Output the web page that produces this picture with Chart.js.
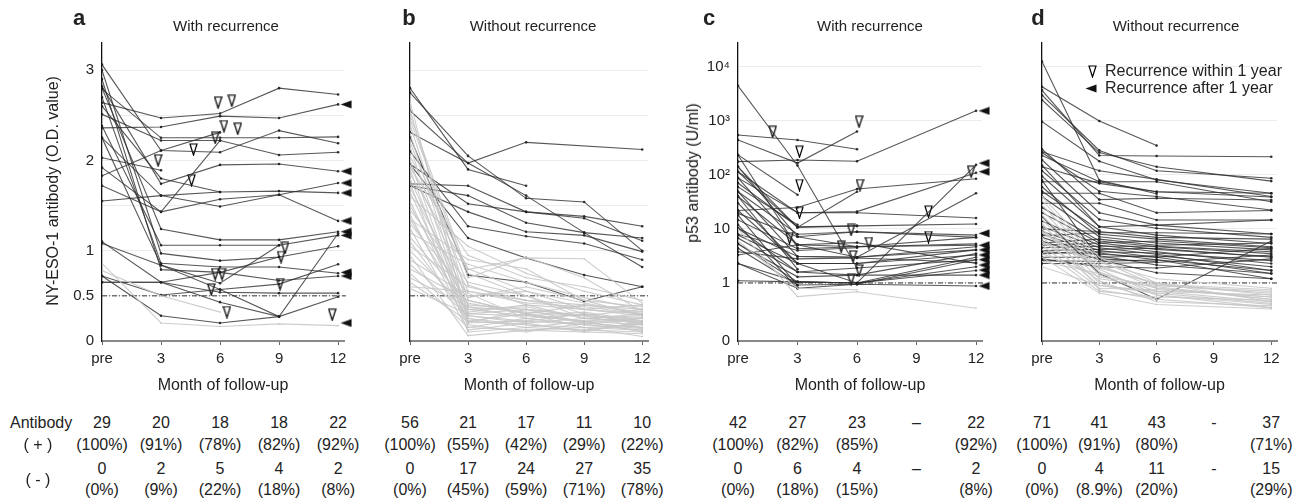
<!DOCTYPE html>
<html>
<head>
<meta charset="utf-8">
<script src="https://cdn.jsdelivr.net/npm/chart.js@4.4.1/dist/chart.umd.min.js"></script>
<style>
body{margin:0;background:#fff;width:1312px;height:501px;overflow:hidden;position:relative;font-family:'Liberation Sans',Arial,sans-serif;color:#222;}
.box{position:absolute;top:0;height:400px;}
.t{position:absolute;white-space:nowrap;transform:translate(-50%,-50%);font-size:15px;}
.letter{font-weight:bold;font-size:22px;}
.ytitle{font-size:16px;transform:translate(-50%,-50%) rotate(-90deg);}
.cell{position:absolute;white-space:nowrap;transform:translate(-50%,-50%);font-size:16px;}
.leg{position:absolute;white-space:nowrap;font-size:16px;transform:translateY(-50%);}
</style>
</head>
<body>
<div class="box" style="left:0;width:365px"><canvas id="chA" width="365" height="400"></canvas></div>
<div class="box" style="left:365px;width:300px"><canvas id="chB" width="300" height="400"></canvas></div>
<div class="box" style="left:665px;width:325px"><canvas id="chC" width="325" height="400"></canvas></div>
<div class="box" style="left:990px;width:322px"><canvas id="chD" width="322" height="400"></canvas></div>

<div class="t letter" style="left:79px;top:18px">a</div>
<div class="t letter" style="left:409px;top:18px">b</div>
<div class="t letter" style="left:709px;top:18px">c</div>
<div class="t letter" style="left:1038px;top:18px">d</div>
<div class="t" style="left:226px;top:25px">With recurrence</div>
<div class="t" style="left:533px;top:25px">Without recurrence</div>
<div class="t" style="left:870px;top:25px">With recurrence</div>
<div class="t" style="left:1176px;top:25px">Without recurrence</div>
<div class="t ytitle" style="left:53px;top:191px">NY-ESO-1 antibody (O.D. value)</div>
<div class="t ytitle" style="left:693px;top:173px">p53 antibody (U/ml)</div>
<div id="legend"></div>
<div id="table"></div>

<script>
// meses de seguimento e rótulos
var monthsNY = [0, 3, 6, 9, 12];
var monthsP53 = [0, 3, 6, 12];
var monthTicks = [0, 3, 6, 9, 12];
var monthLabels = ['pre', '3', '6', '9', '12'];
var nyTicks = [0, 0.5, 1, 1.5, 2, 2.5, 3];
var nyTickLabels = ['0', '0.5', '1', '', '2', '', '3'];
var p53Ticks = [0.0843, 1, 10, 100, 1000, 10000];
var p53TickLabels = ['0', '1', '10', '10²', '10³', '10⁴'];

// a: NY-ESO-1, with recurrence  [pre, 3, 6, 9, 12]
var aDark = [
  [2.64, 2.47, 2.52, 2.80, 2.73],
  [2.36, 2.37, 2.49, 2.47, 2.62],
  [2.79, 2.25, 2.25, 2.25, 2.26],
  [2.51, 2.22, 2.22, 2.06, 2.09],
  [3.06, 2.11, 2.09, 2.33, 2.19],
  [1.83, 2.11, 2.31, null, null],
  [2.03, 1.89, null, null, null],
  [2.82, 1.74, 1.95, 1.96, 1.88],
  [2.25, 1.61, 1.49, 1.62, 1.75],
  [1.72, 1.43, 2.22, null, null],
  [1.55, 1.61, 1.65, 1.66, 1.64],
  [1.92, 1.43, 1.57, 1.62, 1.33],
  [2.80, 1.24, 1.12, 1.12, 1.21],
  [2.38, 1.06, 1.06, 1.06, 1.17],
  [3.00, 0.97, 0.89, 0.93, 1.05],
  [2.70, 0.86, 0.82, 0.82, 0.75],
  [2.90, 0.79, 0.76, 0.67, 0.72],
  [1.08, 0.84, 0.64, 1.06, null],
  [0.65, 0.65, 0.76, 0.93, null],
  [0.72, 0.51, 0.57, 0.63, 0.85],
  [0.65, 0.65, 0.54, 0.53, 0.53],
  [1.10, 0.65, 0.43, 0.27, 1.19],
  [2.25, 0.84, 0.57, 0.27, 0.49],
  [0.72, 0.28, 0.20, 0.27, null],
  [2.60, 1.80, 1.65, null, null]
];
var aLight = [
  [0.86, 0.20, 0.16, 0.19, 0.17],
  [0.78, 0.50, 0.32, null, null]
];
var aWithin = [[5.9, 2.64], [6.6, 2.66], [5.75, 2.25], [6.2, 2.38], [6.9, 2.35], [4.65, 2.12],
  [2.85, 2.0], [4.55, 1.78], [9.3, 1.03], [9.1, 0.93], [5.75, 0.74], [6.1, 0.74],
  [5.55, 0.57], [9.05, 0.63], [6.35, 0.32], [11.7, 0.29]];
var aAfter = [2.62, 1.88, 1.75, 1.64, 1.33, 1.21, 1.17, 0.76, 0.72, 0.20];

// b: NY-ESO-1, without recurrence
var bDark = [
  [2.31, 1.97, 2.20, null, 2.12],
  [2.80, 1.90, 1.72, null, null],
  [2.75, 2.05, 1.58, 1.54, 1.00],
  [1.74, 1.72, 1.43, 1.38, 1.27],
  [1.72, 1.61, 1.31, 1.20, 1.14],
  [1.96, 1.52, 1.43, 1.36, 1.11],
  [1.72, 1.43, 1.21, 1.17, 0.99],
  [2.10, 1.27, 1.16, 1.08, 0.90],
  [1.96, 1.14, 0.92, 0.73, 0.60],
  [2.26, 0.73, 0.65, 0.44, 0.60],
  [2.55, 1.97, 1.61, 1.20, 0.82]
];
var bLight = [
  [2.55, 0.45, 0.30, 0.22, 0.18], [2.40, 0.38, 0.25, 0.30, 0.20], [2.30, 0.30, 0.35, 0.20, 0.15],
  [2.20, 0.62, 0.40, 0.25, 0.28], [2.15, 0.25, 0.18, 0.15, 0.12], [2.05, 0.80, 0.55, 0.35, 0.30],
  [2.00, 0.20, 0.22, 0.18, 0.25], [1.95, 0.55, 0.45, 0.40, 0.35], [1.90, 0.15, 0.12, 0.10, 0.08],
  [1.85, 0.79, 0.92, 0.91, 0.42], [1.80, 0.35, 0.28, 0.32, 0.22], [1.75, 0.10, 0.15, 0.12, 0.10],
  [1.70, 0.48, 0.60, 0.45, 0.38], [1.65, 0.28, 0.20, 0.25, 0.30], [1.60, 1.05, 0.75, 0.55, 0.40],
  [1.55, 0.22, 0.30, 0.15, 0.18], [1.50, 0.40, 0.35, 0.28, 0.25], [1.45, 0.65, 0.50, 0.30, 0.20],
  [1.40, 0.18, 0.10, 0.20, 0.15], [1.35, 0.32, 0.40, 0.35, 0.28], [1.30, 0.53, 0.25, 0.18, 0.12],
  [1.25, 0.12, 0.20, 0.10, 0.22], [1.20, 0.85, 0.65, 0.48, 0.35], [1.15, 0.42, 0.30, 0.40, 0.32],
  [1.10, 0.25, 0.15, 0.22, 0.10], [1.05, 0.60, 0.45, 0.35, 0.40], [1.00, 0.35, 0.38, 0.25, 0.20],
  [0.95, 0.06, 0.12, 0.15, 0.05], [0.90, 0.50, 0.55, 0.42, 0.30], [0.85, 0.28, 0.22, 0.30, 0.18],
  [0.80, 0.45, 0.30, 0.20, 0.25], [0.75, 0.15, 0.25, 0.18, 0.14], [0.70, 0.38, 0.32, 0.28, 0.35],
  [0.65, 0.22, 0.18, 0.12, 0.20], [0.60, 0.55, 0.42, 0.38, 0.30], [0.58, 0.30, 0.28, 0.22, 0.26],
  [2.65, 0.20, 0.35, 0.28, 0.15], [2.50, 0.75, 0.50, 0.25, 0.22], [1.92, 0.95, 0.70, 0.60, 0.45],
  [2.45, 0.70, 0.93, 0.70, 0.33], [1.35, 0.90, 0.80, 0.45, 0.28]
];

// c: p53, with recurrence  [pre, 3, 6, 12]
var cDark = [
  [4500, 150, 1.9, null], [550, 445, 300, null], [445, 166, 640, null], [177, 190, 180, 1540],
  [235, 43, null, null], [115, 10.7, 49, null], [22, 25, 55, 85], [88, 20, 20, 16],
  [71, 11, 11.4, 12.4], [49, 8, 8.9, 7.7], [40, 5.1, 3.0, 46], [30, 2.3, 1.0, 154],
  [19.5, 7.2, 4.7, 7.0], [14.7, 4.3, 4.7, 5.3], [10.3, 3.1, 3.0, 4.7], [7.7, 2.3, 2.3, 4.1],
  [6.8, 1.6, 1.4, 3.5], [5.3, 1.05, 1.0, 3.0], [4.4, 0.92, 0.95, 2.7], [3.3, 5.1, 5.6, 2.3],
  [2.3, 1.05, 1.0, 2.0], [1.1, 1.05, 1.0, 1.7], [142, 7.2, 8.9, 7.0], [88, 5.1, 4.7, 5.0],
  [49, 3.1, 3.0, 4.1], [22, 2.3, 2.3, 3.3], [10.3, 1.6, 1.9, 2.7], [5.3, 1.3, 1.4, 1.4],
  [2.3, 0.8, 0.95, 0.88], [142, 10.7, 11.4, null], [235, 4.5, null, null], [40, 1.8, null, null],
  [115, 20, 21, 110], [60, 12, null, null], [18, 0.9, null, null], [12, 0.8, null, null],
  [8, 4, 4.5, null], [3.8, 2.8, 2.9, 2.4]
];
var cLight = [
  [10, 0.56, 0.69, 0.34], [6, 0.8, 0.75, null]
];
var cWithin = [[1.75, 630], [3.1, 270], [3.1, 65], [3.1, 20], [2.6, 6.8], [6.1, 970], [6.15, 65],
  [5.7, 9.6], [5.2, 4.7], [6.6, 5.5], [5.8, 3.1], [6.1, 1.7], [5.7, 1.17], [9.6, 21], [9.6, 7.1], [11.75, 115]];
var cAfter = [1540, 166, 115, 8.3, 5.0, 4.1, 3.3, 2.7, 2.15, 1.74, 1.4, 0.88];

// d: p53, without recurrence
var dDark = [
  [12600, 80, 45, null], [4300, 1000, 350, null], [3700, 230, 225, 218], [3000, 285, 120, 87],
  [2450, 260, 142, 77], [970, 180, 81, 46], [270, 120, 83, 40], [230, 75, 49, 46],
  [142, 70, 49, 39], [75, 75, 75, 32], [46, 46, 20, 22], [30, 30, 14.7, 14.7],
  [17, 1.5, 0.5, 6.0], [190, 20, 11.8, 8.1], [120, 15, 10.3, 7.0], [95, 11, 7.7, 5.4],
  [60, 8, 6.5, 4.7], [40, 7.2, 5.5, 4.1], [25, 6, 4.7, 3.5], [20, 5.5, 4.2, 3.1],
  [14, 5, 3.8, 2.3], [11, 4.5, 3.4, 1.7], [9, 4, 3.0, 1.5], [8, 3.6, 2.7, 1.2],
  [7, 3.2, 2.15, 1.5], [6, 2.7, 1.55, 1.2], [5.5, 6.5, 5.0, 5.5], [5, 5.5, 6.0, 4.5],
  [4.5, 4.8, 4.8, 3.8], [4, 4.2, 4.4, 3.0], [3.5, 3.8, 3.6, 2.6], [3, 3.0, 3.2, 2.0],
  [2.6, 2.5, 2.7, 1.7], [2.3, 2.3, 2.4, 3.3], [300, 35, 37, 34.5], [260, 50, 40, 22.5],
  [150, 11, 11.8, 14.7], [7.5, 8.5, 8.5, 8.1], [10, 9, 7, 6.5], [3.8, 3.4, 3.0, 4.4],
  [2.8, 2.0, 1.9, 2.8], [80, 2.8, 2.5, null], [50, 9.5, null, null]
];
var dLight = [
  [34, 2.6, 0.9, 0.7], [28, 2.2, 0.8, 0.55], [22, 1.9, 1.0, 0.45], [18, 1.6, 0.7, 0.6],
  [15, 1.4, 0.6, 0.4], [12, 1.2, 0.85, 0.5], [10, 1.0, 0.5, 0.35], [8.5, 2.0, 0.95, 0.75],
  [7, 0.9, 0.65, 0.42], [6, 1.1, 0.45, 0.38], [5, 0.8, 0.75, 0.55], [4.2, 0.7, 0.55, 0.48],
  [3.5, 1.3, 0.9, 0.65], [3.0, 0.65, 0.4, 0.33], [2.5, 1.5, 0.8, 0.5], [2.0, 0.9, 0.7, 0.45],
  [40, 3.0, 1.0, 0.6], [9, 1.8, 0.6, 0.35], [5.5, 2.4, 1.2, 0.8], [13, 0.75, 0.5, null]
];

// tabela de positivos / negativos
var aPos = ['29', '20', '18', '18', '22'], aPosPct = ['(100%)', '(91%)', '(78%)', '(82%)', '(92%)'];
var aNeg = ['0', '2', '5', '4', '2'], aNegPct = ['(0%)', '(9%)', '(22%)', '(18%)', '(8%)'];
var bPos = ['56', '21', '17', '11', '10'], bPosPct = ['(100%)', '(55%)', '(42%)', '(29%)', '(22%)'];
var bNeg = ['0', '17', '24', '27', '35'], bNegPct = ['(0%)', '(45%)', '(59%)', '(71%)', '(78%)'];
var cPos = ['42', '27', '23', '–', '22'], cPosPct = ['(100%)', '(82%)', '(85%)', '', '(92%)'];
var cNeg = ['0', '6', '4', '–', '2'], cNegPct = ['(0%)', '(18%)', '(15%)', '', '(8%)'];
var dPos = ['71', '41', '43', '-', '37'], dPosPct = ['(100%)', '(91%)', '(80%)', '', '(71%)'];
var dNeg = ['0', '4', '11', '-', '15'], dNegPct = ['(0%)', '(8.9%)', '(20%)', '', '(29%)'];

// marcadores
function markDown() {
  var c = document.createElement('canvas');
  c.width = 9; c.height = 13;
  var g = c.getContext('2d');
  g.beginPath(); g.moveTo(1, 1); g.lineTo(8, 1); g.lineTo(4.5, 12); g.closePath();
  g.fillStyle = '#fff'; g.fill();
  g.strokeStyle = '#000'; g.lineWidth = 1.2; g.stroke();
  return c;
}
// shift: deslocamento do triângulo à direita do ponto (mês 12)
function markLeft(shift) {
  var w = 12 + 2 * shift;
  var c = document.createElement('canvas');
  c.width = w; c.height = 9;
  var g = c.getContext('2d');
  var x0 = w / 2 + shift - 6;
  g.beginPath(); g.moveTo(x0 + 11.5, 0.5); g.lineTo(x0 + 11.5, 8.5); g.lineTo(x0 + 0.5, 4.5); g.closePath();
  g.fillStyle = '#111'; g.fill();
  return c;
}
var downMark = markDown();
var leftMark = markLeft(8);
var leftMarkLegend = markLeft(0);

function lineSets(months, rows, dark) {
  return rows.map(function (r) {
    var pts = [];
    r.forEach(function (v, i) { if (v !== null) pts.push({x: months[i], y: v}); });
    return {
      data: pts,
      showLine: true,
      borderColor: dark ? 'rgba(45,45,45,0.8)' : 'rgba(200,200,200,0.9)',
      borderWidth: 1.1,
      pointRadius: dark ? 1.3 : 0.8,
      pointBackgroundColor: dark ? 'rgba(30,30,30,0.9)' : 'rgba(190,190,190,0.9)',
      pointBorderWidth: 0
    };
  });
}

function drawPanel(id, p) {
  var sets = lineSets(p.months, p.light, false).concat(lineSets(p.months, p.dark, true));
  sets.push({
    data: [{x: 0, y: p.cutoff}, {x: 12.4, y: p.cutoff}],
    showLine: true, borderColor: '#333', borderWidth: 1, borderDash: [5, 2, 1, 2],
    pointRadius: 0, clip: false
  });
  if (p.within) {
    sets.push({
      data: p.within.map(function (w) { return {x: w[0], y: w[1]}; }),
      pointStyle: downMark, pointRadius: 6, pointBorderWidth: 0, clip: false
    });
  }
  if (p.after) {
    sets.push({
      data: p.after.map(function (v) { return {x: 12, y: v}; }),
      pointStyle: leftMark, pointRadius: 6, pointBorderWidth: 0, clip: false
    });
  }

  var yScale = {
    type: p.log ? 'logarithmic' : 'linear',
    min: p.min, max: p.max,
    afterBuildTicks: function (s) { s.ticks = p.ticks.map(function (v) { return {value: v}; }); },
    afterFit: function (s) { s.width = p.yWidth; },
    ticks: {
      display: p.showTicks,
      padding: 8,
      color: '#222',
      font: {family: 'Liberation Sans', size: 15},
      callback: function (v, i) { return p.tickLabels[i]; }
    },
    grid: {color: '#ececec', drawTicks: false},
    border: {color: '#111', width: 1.3}
  };

  return new Chart(document.getElementById(id), {
    type: 'scatter',
    data: {datasets: sets},
    options: {
      responsive: false,
      animation: false,
      events: [],
      layout: {padding: {top: 43, right: p.padRight, left: 0, bottom: 0}},
      plugins: {legend: {display: false}, tooltip: {enabled: false}},
      scales: {
        x: {
          type: 'linear', min: 0, max: 12.3,
          afterBuildTicks: function (s) { s.ticks = monthTicks.map(function (v) { return {value: v}; }); },
          afterFit: function (s) { s.height = 59; },
          ticks: {
            padding: 5, color: '#222',
            font: {family: 'Liberation Sans', size: 15},
            callback: function (v, i) { return monthLabels[i]; }
          },
          grid: {drawOnChartArea: false, drawTicks: true, tickLength: 4, color: '#666'},
          border: {color: '#888', width: 2},
          title: {
            display: true, text: 'Month of follow-up', color: '#222',
            font: {family: 'Liberation Sans', size: 16},
            padding: {top: 0, bottom: 5}
          }
        },
        y: yScale
      }
    }
  });
}

var chA = drawPanel('chA', {months: monthsNY, dark: aDark, light: aLight, within: aWithin, after: aAfter,
  cutoff: 0.5, min: 0, max: 3.3, ticks: nyTicks, tickLabels: nyTickLabels, showTicks: true, yWidth: 102, padRight: 21});
var chB = drawPanel('chB', {months: monthsNY, dark: bDark, light: bLight,
  cutoff: 0.5, min: 0, max: 3.3, ticks: nyTicks, tickLabels: nyTickLabels, showTicks: false, yWidth: 45, padRight: 17});
var chC = drawPanel('chC', {months: monthsP53, dark: cDark, light: cLight, within: cWithin, after: cAfter, log: true,
  cutoff: 1, min: 0.0843, max: 27800, ticks: p53Ticks, tickLabels: p53TickLabels, showTicks: true, yWidth: 73, padRight: 8});
var chD = drawPanel('chD', {months: monthsP53, dark: dDark, light: dLight, log: true,
  cutoff: 1, min: 0.0843, max: 27800, ticks: p53Ticks, tickLabels: p53TickLabels, showTicks: false, yWidth: 52, padRight: 35});

// legenda (painel d)
var leg = document.getElementById('legend');
leg.innerHTML =
  '<img src="' + downMark.toDataURL() + '" style="position:absolute;left:1088px;top:65px">' +
  '<div class="leg" style="left:1105px;top:71px">Recurrence within 1 year</div>' +
  '<img src="' + leftMarkLegend.toDataURL() + '" style="position:absolute;left:1085px;top:84px">' +
  '<div class="leg" style="left:1105px;top:88px">Recurrence after 1 year</div>';

// tabela, alinhada com os ticks do eixo x
var rowsY = [423, 445, 469, 490];
var html = '<div class="leg" style="left:10px;top:423px">Antibody</div>' +
  '<div class="cell" style="left:38px;top:445px">( + )</div>' +
  '<div class="cell" style="left:38px;top:480px">( - )</div>';
[[chA, 0, [aPos, aPosPct, aNeg, aNegPct]], [chB, 365, [bPos, bPosPct, bNeg, bNegPct]],
 [chC, 665, [cPos, cPosPct, cNeg, cNegPct]], [chD, 990, [dPos, dPosPct, dNeg, dNegPct]]].forEach(function (t) {
  var sx = t[0].scales.x;
  t[2].forEach(function (row, r) {
    row.forEach(function (txt, i) {
      if (!txt) return;
      var x = t[1] + sx.getPixelForValue(monthTicks[i]);
      html += '<div class="cell" style="left:' + x + 'px;top:' + rowsY[r] + 'px">' + txt + '</div>';
    });
  });
});
document.getElementById('table').innerHTML = html;
</script>
</body>
</html>
